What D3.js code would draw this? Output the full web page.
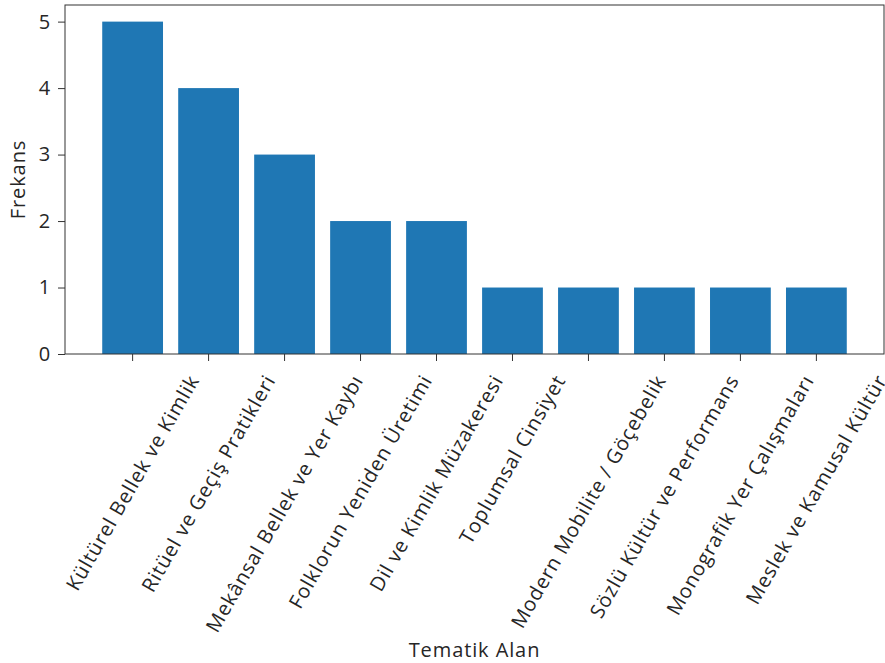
<!DOCTYPE html>
<html>
<head>
<meta charset="utf-8">
<script src="https://cdn.jsdelivr.net/npm/d3@7"></script>
<style>
  body { margin: 0; background: #fff; }
  text { font-family: "Open Sans", sans-serif; fill: #262626; letter-spacing: 0.9px; }
</style>
</head>
<body>
<div id="chart"></div>
<script>
// bar chart: frekans by tematik alan
const width = 885;
const height = 663;

const categories = [
  "Kültürel Bellek ve Kimlik",
  "Ritüel ve Geçiş Pratikleri",
  "Mekânsal Bellek ve Yer Kaybı",
  "Folklorun Yeniden Üretimi",
  "Dil ve Kimlik Müzakeresi",
  "Toplumsal Cinsiyet",
  "Modern Mobilite / Göçebelik",
  "Sözlü Kültür ve Performans",
  "Monografik Yer Çalışmaları",
  "Meslek ve Kamusal Kültür"
];
const frequencies = [5, 4, 3, 2, 2, 1, 1, 1, 1, 1];
const yTicks = [0, 1, 2, 3, 4, 5];

const fontSize = 20;
const margin = { top: 5, right: 1, bottom: 309, left: 65 };
const plotW = width - margin.left - margin.right;
const plotH = height - margin.top - margin.bottom;

const svg = d3.select("#chart")
  .append("svg")
  .attr("width", width)
  .attr("height", height);

const g = svg.append("g")
  .attr("transform", `translate(${margin.left},${margin.top})`);

// matplotlib-like linear x: bars width 0.8, 5% margins
const n = categories.length;
const x = d3.scaleLinear()
  .domain([-0.4 - 0.05 * (n - 0.2), n - 0.6 + 0.05 * (n - 0.2)])
  .range([0, plotW]);

const y = d3.scaleLinear()
  .domain([0, 5.25])
  .range([plotH, 0]);

// bars
g.append("g")
  .selectAll("rect")
  .data(frequencies)
  .join("rect")
  .attr("x", (d, i) => x(i - 0.4))
  .attr("width", (d, i) => x(i + 0.4) - x(i - 0.4))
  .attr("y", d => y(d))
  .attr("height", d => plotH - y(d))
  .attr("fill", "#1f77b4");

// y axis
const yAxis = g.append("g")
  .call(d3.axisLeft(y).tickValues(yTicks).tickFormat(d3.format("d")).tickSize(7).tickPadding(7));
yAxis.selectAll("text").style("font-size", fontSize + "px").attr("fill", "#262626");
yAxis.selectAll("line").attr("stroke", "#333");
yAxis.select(".domain").remove();

// x ticks
const xAxis = g.append("g")
  .attr("transform", `translate(0,${plotH})`);
xAxis.selectAll("line")
  .data(categories)
  .join("line")
  .attr("x1", (d, i) => x(i))
  .attr("x2", (d, i) => x(i))
  .attr("y1", 0)
  .attr("y2", 7)
  .attr("stroke", "#333");

// rotated labels, bounding box centered under tick (ha='center')
const labelTop = 17;
xAxis.selectAll("text")
  .data(categories)
  .join("text")
  .style("font-size", fontSize + "px")
  .attr("text-anchor", "middle")
  .attr("dy", "0.35em")
  .text(d => d)
  .each(function (d, i) {
    const L = this.getComputedTextLength();
    const h = fontSize * 1.1;
    const boxH = L * Math.sin(Math.PI / 3) + h * Math.cos(Math.PI / 3);
    const cx = x(i);
    const cy = labelTop + boxH / 2;
    d3.select(this).attr("transform", `translate(${cx},${cy}) rotate(-60)`);
  });

// frame
g.append("rect")
  .attr("width", plotW)
  .attr("height", plotH)
  .attr("fill", "none")
  .attr("stroke", "#333")
  .attr("stroke-width", 1);

// axis titles
svg.append("text")
  .attr("x", margin.left + plotW / 2)
  .attr("y", 657)
  .attr("text-anchor", "middle")
  .style("font-size", fontSize + "px")
  .text("Tematik Alan");

svg.append("text")
  .attr("transform", `translate(25,${margin.top + plotH / 2}) rotate(-90)`)
  .attr("text-anchor", "middle")
  .style("font-size", fontSize + "px")
  .text("Frekans");
</script>
</body>
</html>
